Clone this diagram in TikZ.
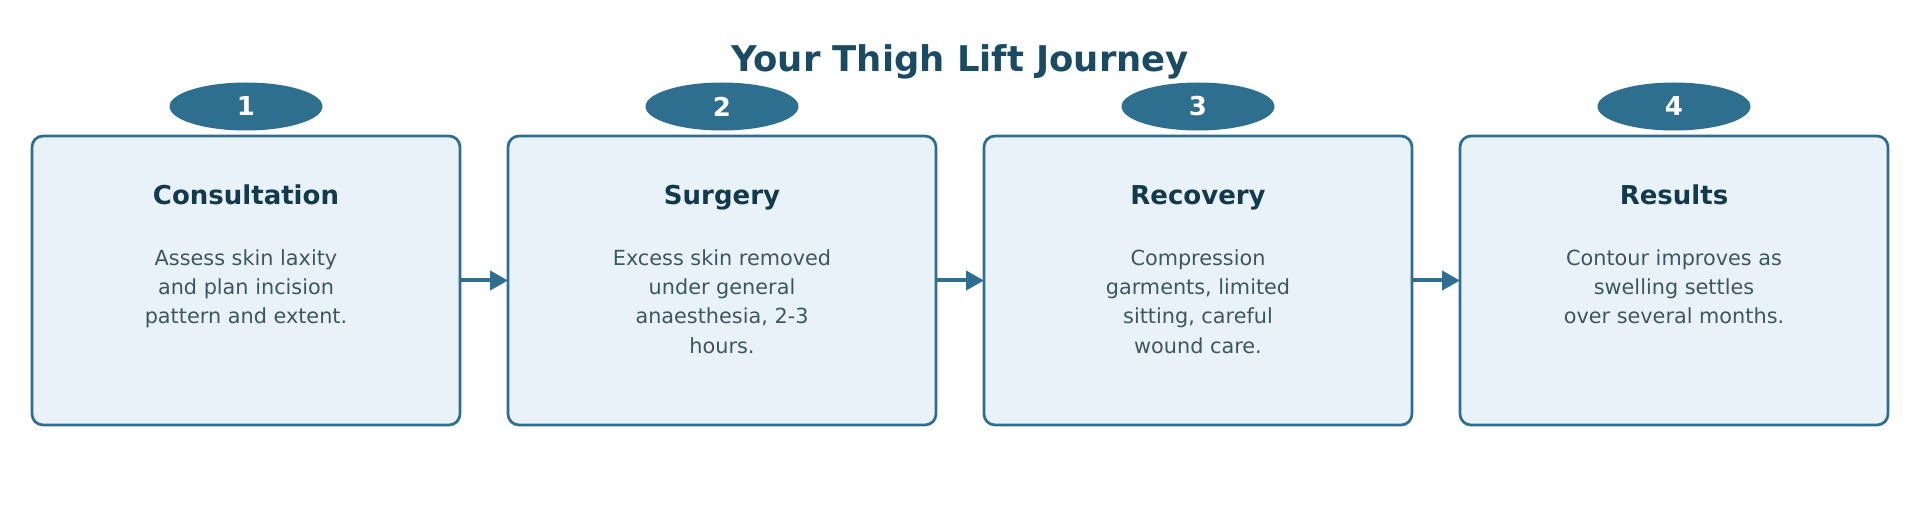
\documentclass[tikz,border=0pt]{standalone}
\usepackage{fontspec}
\setmainfont{DejaVu Sans}
\usepackage{tikz}
\usetikzlibrary{shapes.geometric,positioning,arrows.meta}
\definecolor{stepblue}{HTML}{2E6E8E}
\definecolor{boxfill}{HTML}{EAF2F9}
\definecolor{titlecol}{HTML}{1B4A63}
\definecolor{headcol}{HTML}{13394D}
\definecolor{bodycol}{HTML}{3E5661}

\begin{document}
\begin{tikzpicture}[x=1pt,y=-1pt,
    stage/.style={draw=stepblue, line width=2.7pt, fill=boxfill, rounded corners=11pt,
      minimum width=428pt, minimum height=289pt, inner sep=0pt, outer sep=0pt},
    badge/.style={ellipse, fill=stepblue, minimum width=153pt, minimum height=48pt,
      inner sep=0pt, text=white, font=\fontsize{26}{30}\selectfont\bfseries},
    heading/.style={font=\fontsize{26}{30}\selectfont\bfseries, text=headcol, anchor=base},
    body/.style={font=\fontsize{20.8}{29.4}\selectfont, text=bodycol, align=center,
      anchor=north, inner sep=0pt},
    flow/.style={-{Triangle[length=18pt,width=19pt]}, line width=4pt, draw=stepblue}]
  \useasboundingbox (0,0) rectangle (1920,510);

  \node[font=\fontsize{35.4}{40}\selectfont\bfseries, text=titlecol] (title) at (960,61.5) {Your Thigh Lift Journey};

  % the four stages
  \node[stage] (s1) at (246,280.5) {};
  \node[stage, right=48pt of s1] (s2) {};
  \node[stage, right=48pt of s2] (s3) {};
  \node[stage, right=48pt of s3] (s4) {};

  \node[badge] (b1) at ([yshift=29.5pt]s1.north) {1};
  \node[badge] (b2) at ([yshift=29.5pt]s2.north) {2};
  \node[badge] (b3) at ([yshift=29.5pt]s3.north) {3};
  \node[badge] (b4) at ([yshift=29.5pt]s4.north) {4};

  \node[heading] (h1) at ([yshift=-68.5pt]s1.north) {Consultation};
  \node[heading] (h2) at ([yshift=-68.5pt]s2.north) {Surgery};
  \node[heading] (h3) at ([yshift=-68.5pt]s3.north) {Recovery};
  \node[heading] (h4) at ([yshift=-68.5pt]s4.north) {Results};

  \node[body] (t1) at ([yshift=-113pt]s1.north) {Assess skin laxity\\and plan incision\\pattern and extent.};
  \node[body] (t2) at ([yshift=-113pt]s2.north) {Excess skin removed\\under general\\anaesthesia, 2-3\\hours.};
  \node[body] (t3) at ([yshift=-113pt]s3.north) {Compression\\garments, limited\\sitting, careful\\wound care.};
  \node[body] (t4) at ([yshift=-113pt]s4.north) {Contour improves as\\swelling settles\\over several months.};

  \draw[flow] (s1) -- (s2);
  \draw[flow] (s2) -- (s3);
  \draw[flow] (s3) -- (s4);
\end{tikzpicture}
\end{document}
